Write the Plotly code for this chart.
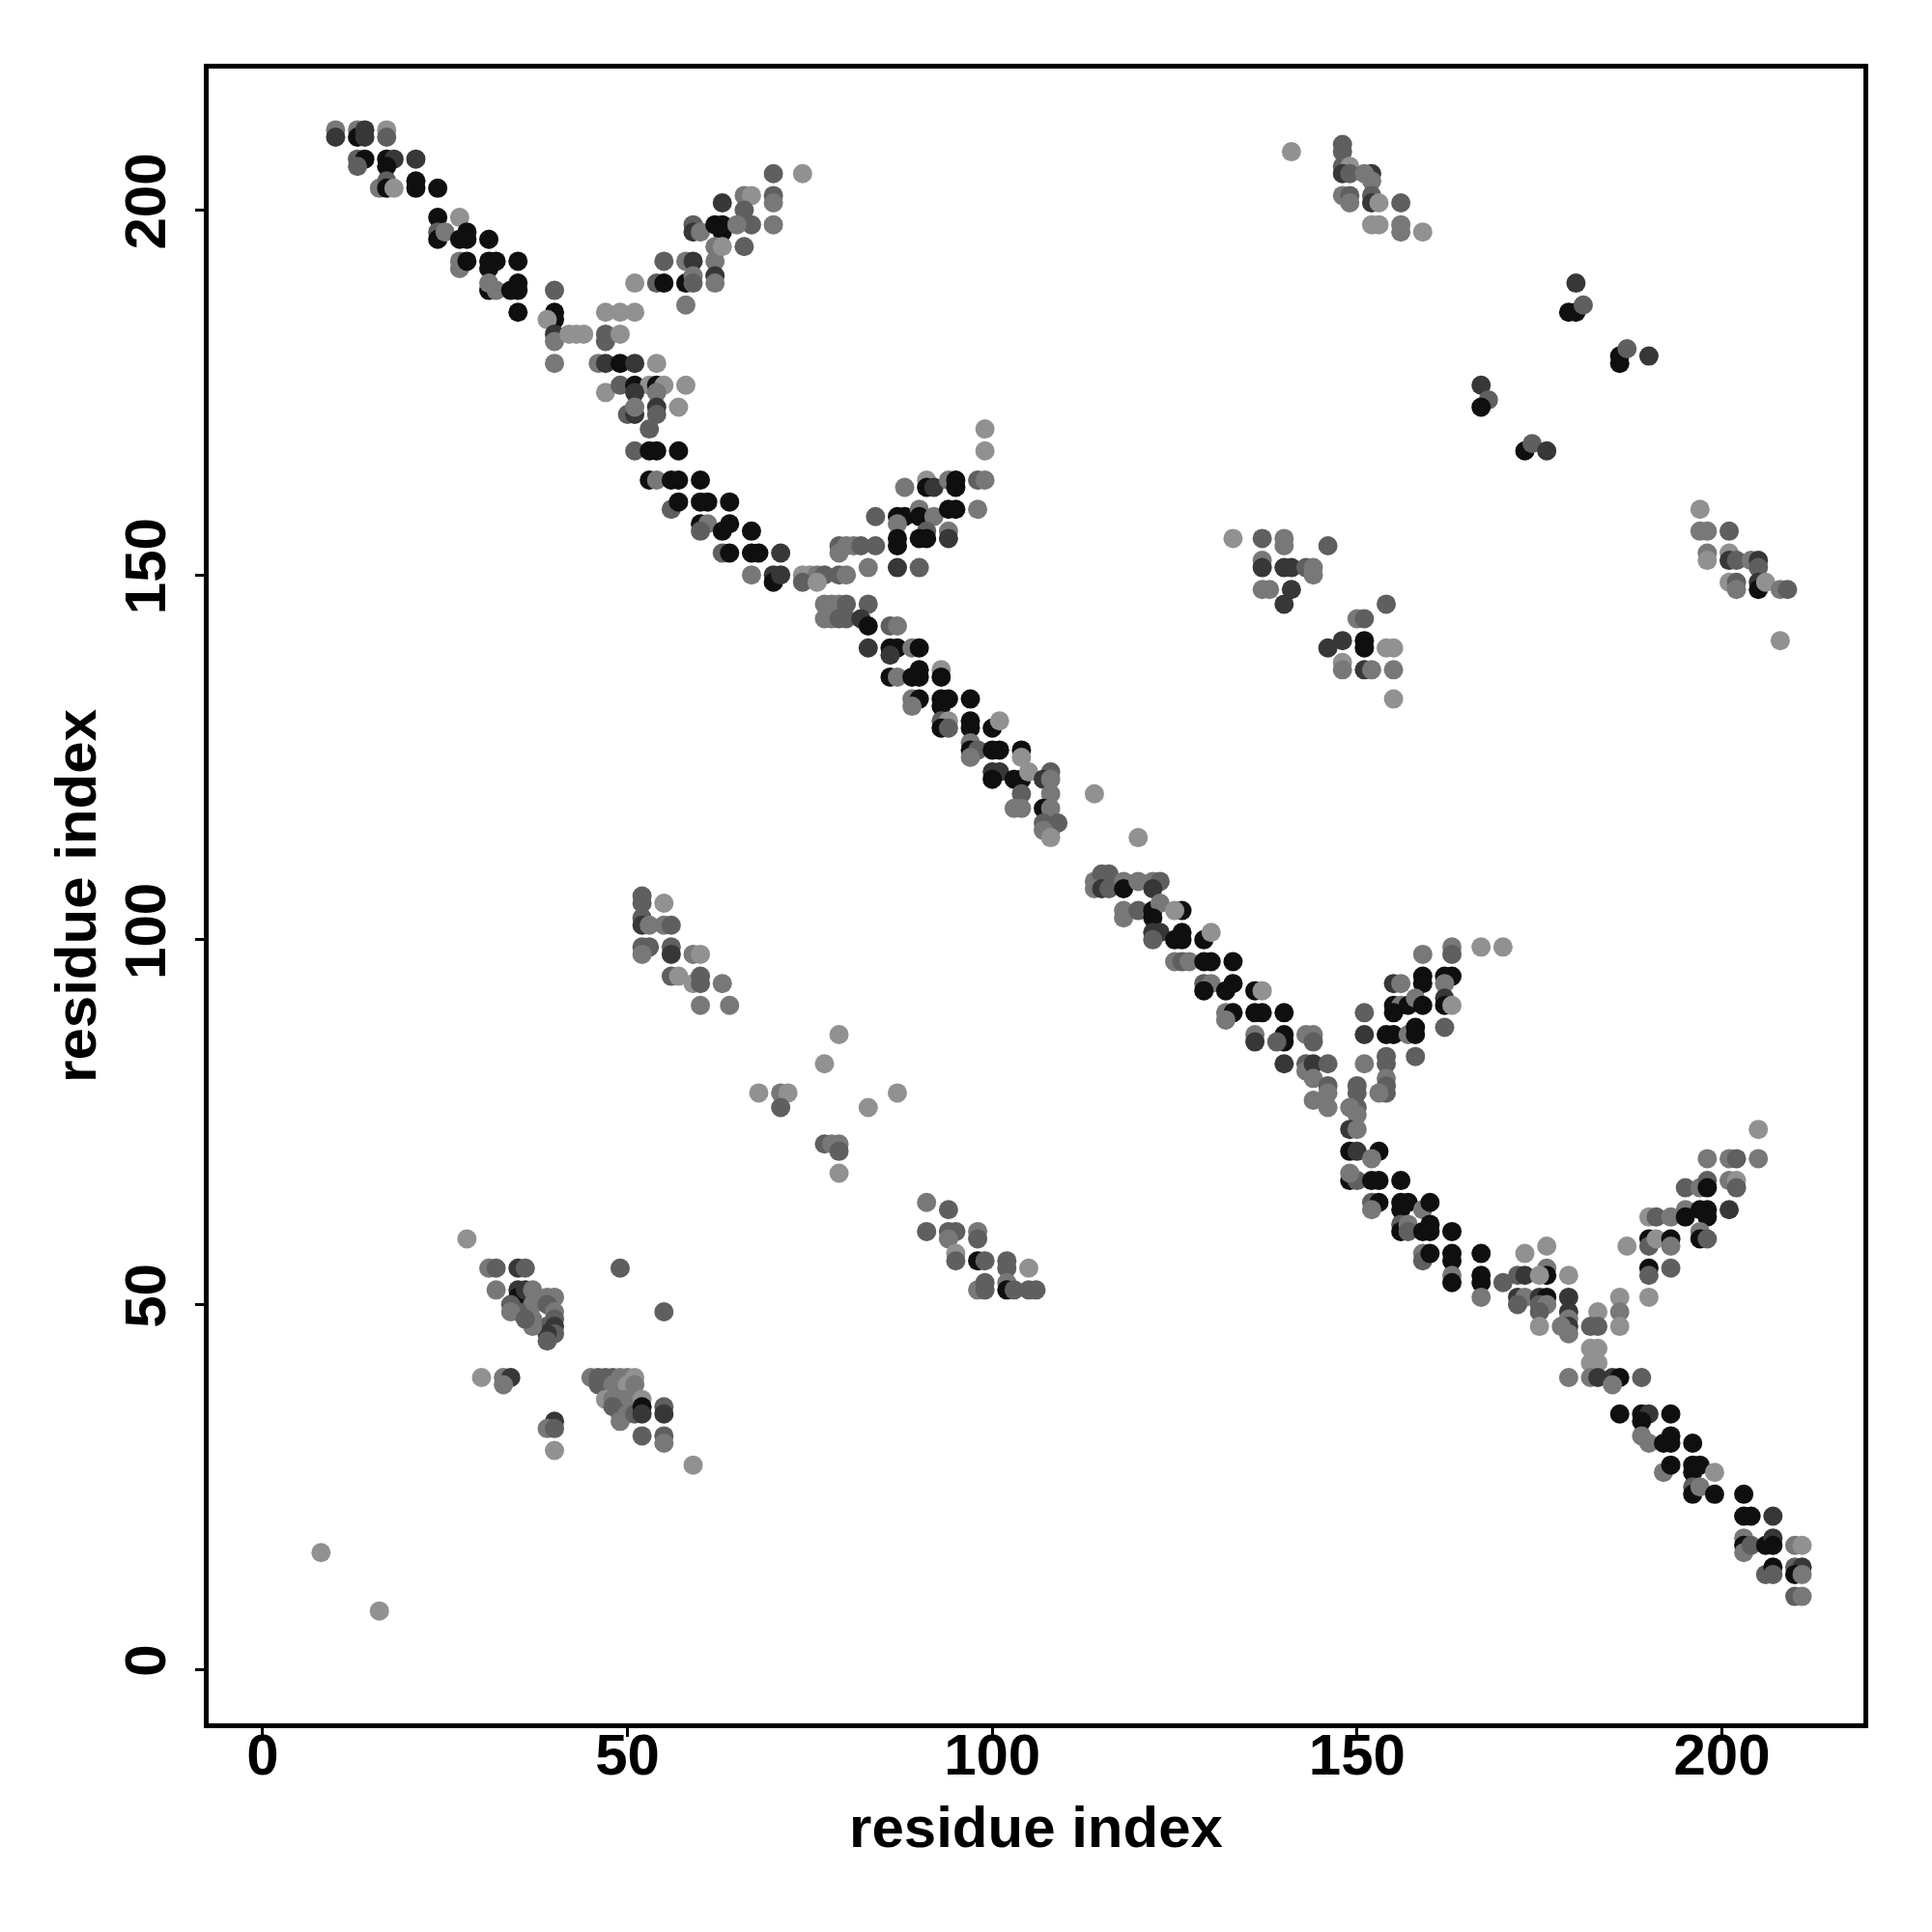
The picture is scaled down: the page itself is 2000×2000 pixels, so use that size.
import plotly.graph_objects as go

# shade codes -> gray level (0 = black, 255 = white)
SHADE = {"b": 15, "d": 55, "m": 95, "l": 120, "v": 145}

# contacts: (residue i, residue j, shade code), grouped by region of the map
diag_top = [
    (10,211,"l"),(10,210,"d"),(13,211,"l"),(13,210,"b"),(14,211,"d"),(14,210,"d"),(17,211,"v"),(17,210,"m"),
    (13,207,"m"),(14,207,"b"),(13,206,"m"),(17,207,"b"),(18,207,"d"),(17,206,"b"),(21,207,"d"),
    (16,203,"l"),(17,204,"m"),(17,203,"b"),(18,203,"v"),(21,204,"b"),(21,203,"b"),(24,203,"b"),
    (24,199,"b"),(27,199,"v"),(24,197,"m"),(24,196,"b"),(25,197,"l"),(27,196,"b"),(28,197,"b"),(28,196,"b"),(31,196,"b"),
    (27,193,"l"),(27,192,"l"),(28,193,"b"),(31,193,"b"),(32,193,"b"),(31,192,"b"),(35,193,"b"),
    (31,189,"b"),(31,190,"l"),(32,189,"l"),(34,189,"b"),(35,190,"b"),(35,189,"b"),(35,186,"b"),
    (40,189,"m"),(40,186,"b"),(40,185,"b"),(39,185,"v"),(40,183,"d"),(40,182,"l"),(42,183,"v"),(43,183,"v"),(44,183,"v"),(40,179,"l"),
    (47,186,"v"),(49,186,"v"),(51,186,"v"),(47,183,"m"),(47,182,"m"),(49,183,"v"),
    (46,179,"l"),(47,179,"d"),(49,179,"b"),(51,179,"d"),(54,179,"v"),
    (47,175,"v"),(49,176,"m"),(51,176,"b"),(53,176,"v"),(54,176,"b"),(55,176,"v"),(58,176,"v"),(51,175,"d"),(54,175,"l"),
    (50,172,"m"),(51,172,"d"),(51,173,"l"),(54,173,"d"),(54,172,"m"),(57,173,"v"),(53,170,"m"),
    (51,167,"m"),(53,167,"b"),(54,167,"b"),(57,167,"b"),
    (53,163,"b"),(54,163,"l"),(56,163,"b"),(57,163,"b"),(60,163,"b"),
    (56,159,"m"),(57,160,"b"),(60,160,"b"),(61,160,"b"),(64,160,"b"),
    (60,157,"b"),(61,157,"l"),(64,157,"b"),(67,156,"b"),(63,156,"b"),(60,156,"m"),
    (63,153,"m"),(64,153,"b"),(67,153,"b"),(67,150,"l"),
]

arm_a = [
    (51,190,"v"),(54,190,"m"),(55,190,"b"),(55,193,"m"),(58,193,"l"),(59,193,"d"),(58,190,"b"),(59,191,"l"),(59,190,"m"),(58,187,"l"),
    (62,193,"l"),(62,191,"d"),(62,190,"l"),(59,198,"m"),(59,197,"d"),(60,197,"l"),(62,198,"b"),(63,198,"b"),(63,197,"b"),(62,195,"l"),(63,195,"v"),(63,201,"d"),
    (66,202,"l"),(67,202,"v"),(66,200,"m"),(67,198,"m"),(66,195,"m"),(65,198,"l"),
    (70,205,"m"),(74,205,"v"),(70,202,"m"),(70,201,"l"),(70,198,"l"),
]

top_right = [
    (141,208,"v"),(148,209,"m"),(148,208,"m"),(148,206,"m"),(149,206,"v"),(148,205,"d"),(149,205,"m"),(152,205,"d"),(151,205,"l"),(152,204,"l"),
    (148,202,"l"),(149,202,"m"),(149,201,"l"),(152,202,"m"),(152,201,"d"),(153,201,"v"),(156,201,"m"),(152,198,"v"),(153,198,"v"),(156,198,"l"),(156,197,"l"),(159,197,"v"),
    (180,190,"d"),(179,186,"b"),(180,186,"b"),(181,187,"m"),(186,180,"b"),(186,179,"b"),(187,181,"m"),(190,180,"d"),
    (167,176,"d"),(168,174,"m"),(167,173,"b"),(173,167,"b"),(174,168,"m"),(176,167,"d"),
    (197,159,"v"),(197,156,"l"),(198,156,"l"),(201,156,"m"),(198,153,"l"),(198,152,"v"),(201,153,"v"),(201,152,"d"),(202,152,"m"),(204,152,"l"),(205,152,"d"),(205,151,"m"),
    (201,149,"v"),(202,149,"m"),(202,148,"l"),(205,149,"d"),(205,148,"b"),(206,149,"v"),(208,148,"l"),(209,148,"m"),(208,141,"v"),
]

arm_b = [
    (99,170,"v"),(99,167,"v"),(98,163,"m"),(99,163,"l"),(88,162,"l"),(91,163,"v"),(91,162,"b"),(92,162,"d"),(94,163,"l"),(95,163,"b"),(95,162,"b"),(98,159,"l"),
    (84,158,"m"),(87,158,"b"),(88,158,"b"),(87,157,"l"),(90,159,"l"),(90,158,"b"),(92,158,"l"),(94,159,"b"),(95,159,"b"),(91,156,"m"),(94,156,"l"),(94,155,"d"),
    (87,155,"b"),(87,154,"b"),(90,155,"b"),(91,155,"b"),(87,151,"d"),(90,151,"m"),(83,151,"l"),(79,154,"m"),(80,154,"l"),(81,154,"l"),(82,154,"m"),(84,154,"m"),(79,153,"l"),
]

mid_cluster = [
    (133,155,"v"),(137,155,"m"),(140,155,"l"),(140,154,"l"),(137,152,"l"),(137,151,"d"),(140,151,"d"),(141,151,"d"),(137,148,"l"),(138,148,"l"),(141,148,"d"),(140,146,"d"),(143,151,"m"),
    (146,154,"m"),(144,151,"l"),(144,150,"l"),(154,146,"m"),(150,144,"l"),(151,144,"m"),
    (146,140,"d"),(148,141,"d"),(151,141,"b"),(151,140,"b"),(154,140,"v"),(155,140,"v"),
    (148,138,"v"),(148,137,"l"),(151,137,"d"),(152,137,"l"),(155,137,"l"),(155,133,"v"),
]

diag_mid = [
    (68,153,"b"),(71,153,"d"),(70,150,"d"),(70,149,"b"),(71,150,"d"),(74,150,"v"),(75,150,"v"),(76,150,"l"),(77,150,"m"),(79,150,"m"),(80,150,"l"),(74,149,"m"),(76,149,"v"),
    (77,146,"l"),(78,146,"l"),(79,146,"l"),(80,146,"m"),(83,146,"m"),(77,144,"l"),(78,144,"l"),(79,144,"m"),(80,144,"m"),(82,144,"d"),(83,143,"b"),(86,143,"m"),(87,143,"l"),
    (83,140,"d"),(86,140,"b"),(87,140,"b"),(89,140,"l"),(90,140,"b"),(86,139,"d"),(86,136,"b"),(87,136,"l"),(89,136,"b"),(90,137,"b"),(90,136,"b"),(93,137,"v"),(93,136,"b"),
    (89,133,"l"),(90,133,"b"),(89,132,"l"),(93,133,"b"),(94,133,"b"),(93,132,"b"),(97,133,"b"),
    (93,130,"m"),(94,130,"v"),(93,129,"b"),(94,129,"m"),(97,130,"b"),(97,129,"b"),(100,129,"b"),(101,130,"v"),
    (97,127,"l"),(97,126,"b"),(98,126,"m"),(97,125,"l"),(100,126,"b"),(101,126,"b"),(104,126,"b"),(104,125,"v"),
    (100,123,"d"),(101,123,"d"),(100,122,"b"),(103,122,"b"),(104,122,"b"),(105,123,"v"),(108,123,"m"),(107,122,"d"),(108,122,"l"),
    (104,120,"m"),(108,120,"l"),(103,118,"l"),(104,118,"l"),(107,118,"b"),(108,118,"l"),
    (107,116,"m"),(109,116,"m"),(108,115,"m"),(107,115,"l"),(108,114,"v"),(114,120,"v"),(120,114,"v"),
    (114,108,"l"),(115,109,"m"),(116,109,"m"),(114,107,"l"),(115,107,"d"),(116,107,"m"),(118,108,"l"),(118,107,"b"),(120,108,"l"),(122,108,"l"),(123,108,"m"),(122,107,"d"),
    (118,104,"l"),(118,103,"l"),(120,104,"m"),(122,104,"b"),(123,105,"l"),(122,103,"b"),(126,104,"b"),(125,104,"v"),
    (122,101,"d"),(123,101,"d"),(122,100,"m"),(125,100,"b"),(126,101,"b"),(126,100,"b"),(129,100,"b"),(130,101,"v"),
    (125,97,"l"),(126,97,"m"),(127,97,"l"),(129,97,"b"),(130,97,"b"),(133,97,"b"),
    (129,94,"m"),(130,94,"l"),(129,93,"b"),(132,93,"b"),(133,94,"b"),(136,93,"b"),(137,93,"v"),
    (132,90,"l"),(133,90,"b"),(132,89,"l"),(136,90,"b"),(137,90,"b"),(140,90,"b"),
    (136,87,"l"),(136,86,"d"),(140,87,"b"),(140,86,"b"),(139,86,"m"),(140,83,"d"),(143,87,"l"),(143,83,"m"),(143,82,"l"),
]

arm_c = [
    (163,99,"l"),(163,98,"m"),(159,98,"l"),(167,99,"v"),(170,99,"v"),
    (159,95,"b"),(159,94,"b"),(162,95,"b"),(163,95,"b"),(162,94,"l"),(155,94,"d"),(156,94,"l"),
    (155,91,"b"),(156,91,"l"),(155,90,"b"),(157,91,"b"),(158,92,"l"),(159,91,"b"),(162,92,"d"),(162,91,"b"),(163,91,"v"),(151,90,"m"),
    (151,87,"d"),(154,87,"b"),(155,87,"b"),(157,87,"l"),(158,87,"b"),(158,88,"b"),(162,88,"m"),(158,84,"m"),
    (151,83,"l"),(154,84,"m"),(154,83,"m"),(154,81,"l"),(154,80,"m"),(154,79,"m"),(153,79,"l"),
    (144,87,"l"),(144,86,"m"),(144,83,"d"),(146,83,"m"),(144,81,"l"),(146,80,"m"),(146,79,"l"),(146,77,"l"),(144,78,"l"),
    (150,80,"m"),(150,79,"m"),(150,77,"m"),(150,76,"l"),(149,77,"l"),(149,74,"d"),(150,74,"l"),
    (149,71,"b"),(150,71,"d"),(153,71,"b"),(152,70,"l"),
]

low_left = [
    (52,106,"m"),(52,105,"m"),(55,105,"v"),(52,103,"m"),(52,102,"d"),(53,102,"l"),(55,102,"l"),(56,102,"m"),
    (52,99,"m"),(53,99,"m"),(52,98,"l"),(56,99,"m"),(56,98,"d"),(59,98,"l"),(60,98,"v"),
    (56,95,"m"),(57,95,"v"),(59,94,"v"),(60,95,"m"),(60,94,"m"),(63,94,"l"),(60,91,"l"),(64,91,"l"),
    (68,79,"v"),(79,87,"v"),(77,83,"v"),(71,79,"l"),(72,79,"v"),(71,77,"m"),(87,79,"v"),(83,77,"v"),
    (77,72,"m"),(78,72,"l"),(79,72,"l"),(79,71,"m"),(79,68,"v"),
    (91,64,"l"),(94,63,"m"),(91,60,"m"),(94,60,"m"),(95,60,"m"),(94,59,"l"),(98,60,"l"),(98,59,"m"),
    (95,57,"v"),(95,56,"m"),(98,56,"b"),(99,56,"m"),(102,56,"m"),(102,55,"m"),(105,55,"v"),
    (98,52,"l"),(99,53,"m"),(99,52,"m"),(102,53,"l"),(102,52,"b"),(103,52,"m"),(105,52,"m"),(106,52,"m"),
]

bottom_left = [
    (28,59,"v"),(31,55,"l"),(32,55,"m"),(35,55,"d"),(36,55,"m"),(32,52,"l"),(35,52,"d"),(35,51,"b"),(36,52,"d"),(37,52,"l"),
    (37,50,"l"),(34,50,"m"),(35,49,"m"),(34,49,"l"),(39,51,"l"),(40,51,"l"),(39,50,"m"),(40,49,"l"),(40,48,"m"),(39,47,"m"),
    (40,47,"d"),(40,46,"m"),(39,46,"d"),(39,45,"m"),(37,48,"l"),(37,47,"l"),(36,48,"m"),(49,55,"m"),(55,49,"m"),
    (30,40,"v"),(33,40,"l"),(34,40,"d"),(33,39,"l"),(40,34,"d"),(39,33,"l"),(40,33,"m"),(40,30,"v"),
    (45,40,"l"),(46,40,"m"),(47,40,"m"),(48,40,"m"),(49,40,"l"),(50,40,"l"),(51,40,"v"),(46,39,"m"),(47,39,"m"),(48,39,"l"),(50,39,"v"),(51,39,"l"),
    (47,37,"v"),(48,37,"l"),(49,37,"l"),(50,37,"l"),(52,37,"v"),(48,36,"m"),(49,35,"m"),(49,34,"l"),(50,35,"l"),(51,35,"m"),
    (52,36,"b"),(52,35,"d"),(55,36,"m"),(55,35,"d"),(52,32,"m"),(55,32,"m"),(55,31,"l"),(59,28,"v"),(8,16,"v"),(16,8,"v"),
]

diag_low = [
    (149,67,"b"),(150,67,"m"),(149,68,"l"),(152,67,"b"),(153,67,"b"),(156,67,"b"),
    (152,64,"m"),(153,64,"b"),(152,63,"l"),(156,64,"b"),(157,64,"b"),(156,63,"b"),(159,63,"l"),(160,64,"b"),
    (156,61,"m"),(156,60,"b"),(157,61,"l"),(157,60,"m"),(159,60,"b"),(160,61,"b"),(160,60,"b"),(163,60,"b"),
    (159,57,"l"),(159,56,"m"),(160,57,"b"),(163,57,"b"),(163,56,"b"),(167,57,"b"),
    (163,54,"l"),(163,53,"b"),(167,54,"b"),(167,53,"b"),(167,51,"l"),
    (170,53,"m"),(172,54,"m"),(173,54,"d"),(172,51,"d"),(173,51,"l"),(172,50,"m"),(173,57,"v"),(176,58,"v"),(176,55,"l"),(176,54,"b"),(175,54,"v"),
    (175,51,"d"),(176,51,"b"),(175,50,"m"),(176,50,"l"),(175,49,"m"),(175,47,"v"),
    (179,54,"v"),(179,51,"d"),(179,49,"d"),(179,48,"l"),(179,47,"d"),(179,46,"l"),(178,47,"l"),
    (183,49,"v"),(182,47,"m"),(183,47,"m"),(186,51,"v"),(186,49,"l"),(186,47,"v"),(190,51,"v"),
    (182,44,"v"),(183,44,"v"),(182,42,"v"),(183,42,"v"),
    (179,40,"l"),(182,40,"l"),(183,40,"d"),(185,40,"d"),(186,40,"b"),(185,39,"l"),(189,40,"m"),
    (186,35,"b"),(189,35,"b"),(190,35,"d"),(193,35,"b"),(189,34,"b"),
    (189,32,"l"),(190,31,"l"),(192,31,"b"),(193,32,"b"),(193,31,"b"),(196,31,"b"),
    (192,27,"l"),(193,28,"b"),(196,28,"b"),(196,27,"b"),(197,28,"b"),(199,27,"v"),
    (196,25,"m"),(196,24,"b"),(197,25,"l"),(199,24,"b"),(203,24,"b"),
    (203,21,"b"),(204,21,"b"),(207,21,"d"),
    (203,18,"l"),(203,17,"b"),(203,16,"l"),(204,17,"m"),(206,17,"b"),(207,18,"d"),(207,17,"b"),(210,17,"l"),(211,17,"v"),
    (206,13,"m"),(207,14,"b"),(207,13,"m"),(210,14,"m"),(211,14,"d"),(210,13,"b"),(211,13,"l"),(210,10,"m"),(211,10,"l"),
]

arm_d = [
    (187,58,"v"),(190,62,"v"),(191,62,"m"),(193,62,"l"),(190,59,"b"),(190,58,"m"),(191,59,"v"),(193,59,"b"),(193,58,"l"),
    (190,55,"b"),(190,54,"m"),(193,55,"m"),
    (195,66,"m"),(195,63,"l"),(195,62,"b"),(197,66,"l"),(198,67,"m"),(198,66,"b"),(197,63,"b"),(198,63,"b"),(198,62,"b"),
    (197,60,"l"),(197,59,"b"),(198,59,"m"),(201,63,"d"),(201,67,"l"),(202,67,"v"),(202,66,"m"),
    (205,74,"v"),(198,70,"l"),(201,70,"l"),(202,70,"m"),(205,70,"l"),
]

regions = [diag_top, arm_a, top_right, arm_b, mid_cluster, diag_mid, arm_c,
           low_left, bottom_left, diag_low, arm_d]

xs, ys, cols = [], [], []
for reg in regions:
    for i, j, s in reg:
        g = SHADE[s]
        xs.append(i)
        ys.append(j)
        cols.append(f"rgb({g},{g},{g})")

fig = go.Figure()
fig.add_trace(go.Scatter(
    x=xs, y=ys, mode="markers",
    marker=dict(size=20, color=cols, line=dict(width=0)),
    showlegend=False, hoverinfo="x+y",
))

FONT = "Liberation Sans, Arial, Helvetica, sans-serif"
tickfont = dict(family=FONT, size=60, color="black", weight="bold")
titlefont = dict(family=FONT, size=60, color="black", weight="bold")

axis_common = dict(
    range=[-7.4, 219.4], tickvals=[0, 50, 100, 150, 200],
    showgrid=False, zeroline=False,
    showline=True, linecolor="black", linewidth=5, mirror=True,
    ticks="outside", ticklen=9, tickwidth=3, tickcolor="black",
    tickfont=tickfont, automargin=False,
)

# page body adds an 8 px offset; margins compensate so the frame sits at 216..1929
fig.update_layout(
    width=2000, height=2000,
    paper_bgcolor="white", plot_bgcolor="white",
    margin=dict(l=208, r=79, t=63, b=224),
    xaxis=dict(**axis_common, ticklabelstandoff=-33,
               title=dict(text="residue index", font=titlefont, standoff=22)),
    yaxis=dict(**axis_common, tickangle=-90, ticklabelstandoff=7,
               title=dict(text="residue index", font=titlefont, standoff=0)),
)

fig.write_html("out.html")
